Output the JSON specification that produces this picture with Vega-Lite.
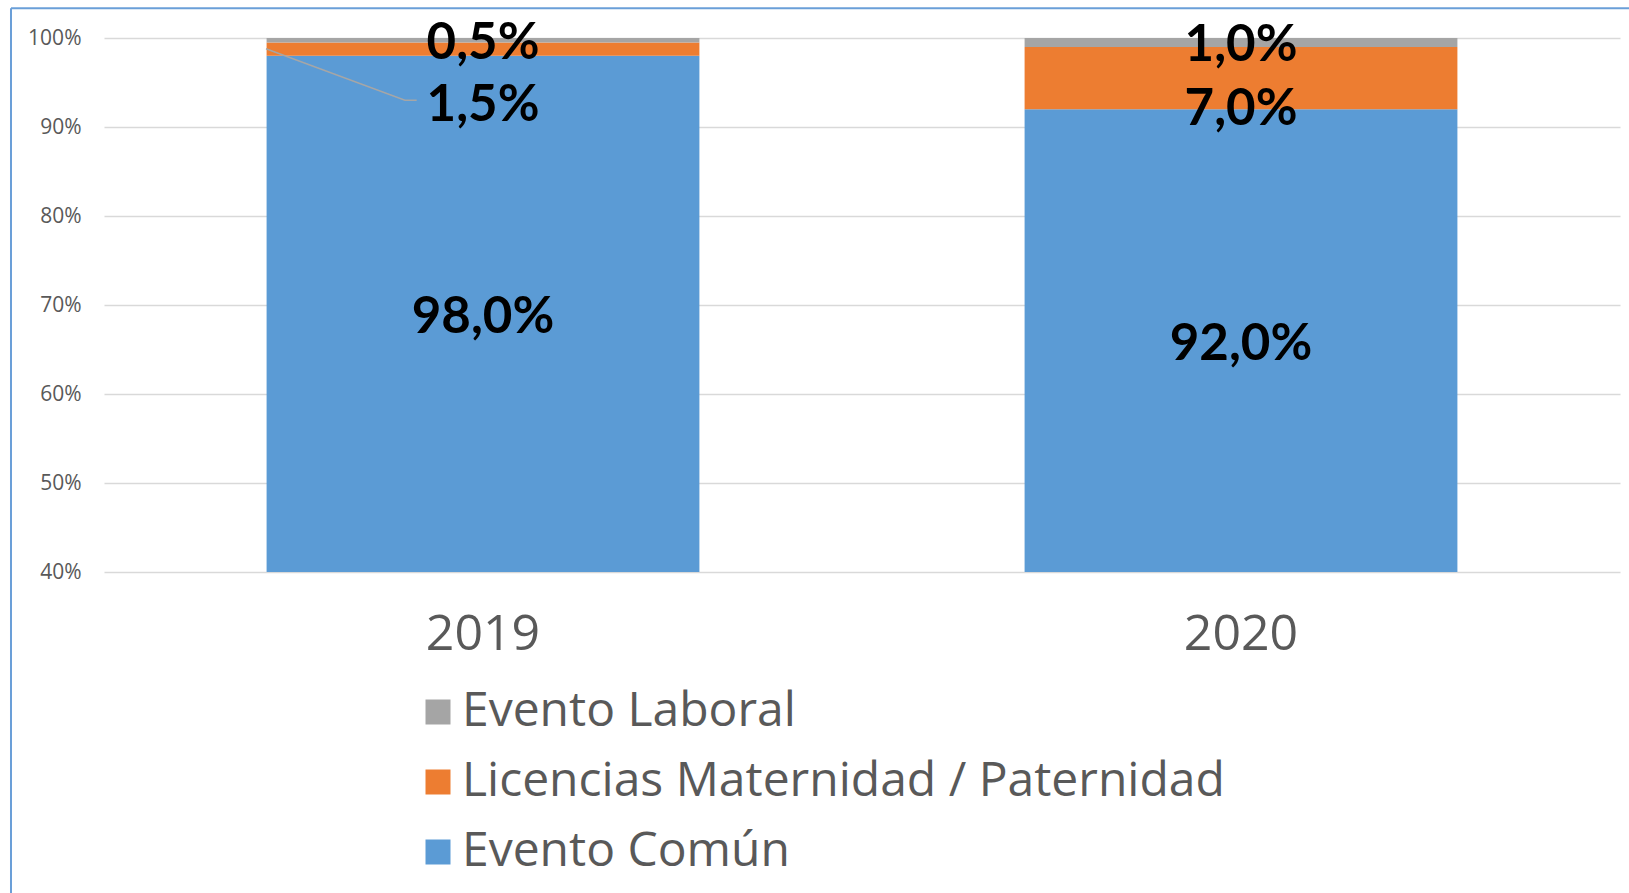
{
  "$schema": "https://vega.github.io/schema/vega-lite/v6.json",
  "width": 1516,
  "height": 534,
  "autosize": {"type": "none"},
  "padding": {"left": 104, "top": 38, "right": 9, "bottom": 321},
  "background": "white",
  "config": {
    "locale": {"number": {"decimal": ",", "thousands": ".", "grouping": [3], "currency": ["", " €"]}},
    "view": {"stroke": null},
    "font": "Open Sans"
  },
  "datasets": {
    "ausentismo": [
      {"anio": "2019", "tipo": "Evento Común", "valor": 0.98},
      {"anio": "2019", "tipo": "Licencias Maternidad / Paternidad", "valor": 0.015},
      {"anio": "2019", "tipo": "Evento Laboral", "valor": 0.005},
      {"anio": "2020", "tipo": "Evento Común", "valor": 0.92},
      {"anio": "2020", "tipo": "Licencias Maternidad / Paternidad", "valor": 0.07},
      {"anio": "2020", "tipo": "Evento Laboral", "valor": 0.01}
    ],
    "guia": [
      {"px": 0.2137, "py": 0.988, "k": 0},
      {"px": 0.397, "py": 0.93, "k": 1},
      {"px": 0.4125, "py": 0.93, "k": 2}
    ]
  },
  "layer": [
    {
      "data": {"name": "ausentismo"},
      "transform": [
        {"calculate": "indexof(['Evento Común','Licencias Maternidad / Paternidad','Evento Laboral'], datum.tipo)", "as": "orden"}
      ],
      "layer": [
        {
          "mark": {"type": "bar", "clip": true},
          "encoding": {
            "x": {
              "field": "anio", "type": "nominal",
              "scale": {"paddingInner": 0.429, "paddingOuter": 0.2145},
              "axis": {"title": null, "labelAngle": 0, "labelFontSize": 50, "labelColor": "#595959", "labelPadding": 37, "ticks": false, "domain": false, "labelFont": "Open Sans", "grid": false}
            },
            "y": {
              "field": "valor", "type": "quantitative", "stack": "zero",
              "scale": {"domain": [0.4, 1]},
              "axis": {"title": null, "format": ".0%", "values": [0.4, 0.5, 0.6, 0.7, 0.8, 0.9, 1.0], "labelFontSize": 21, "labelColor": "#595959", "labelFont": "Open Sans", "ticks": false, "domain": false, "gridColor": "#d9d9d9", "gridWidth": 1.5, "labelPadding": 23}
            },
            "color": {
              "field": "tipo", "type": "nominal",
              "scale": {"domain": ["Evento Laboral", "Licencias Maternidad / Paternidad", "Evento Común"], "range": ["#a5a5a5", "#ed7d31", "#5b9bd5"]},
              "legend": {"title": null, "orient": "none", "legendX": 310, "legendY": 650, "direction": "vertical", "labelFontSize": 48, "labelColor": "#595959", "labelFont": "Open Sans", "symbolType": "square", "symbolSize": 625, "symbolStrokeWidth": 0, "symbolOpacity": 1, "labelOffset": 0, "rowPadding": 22, "labelLimit": 1200}
            },
            "order": {"field": "orden"}
          }
        },
        {
          "transform": [
            {"stack": "valor", "groupby": ["anio"], "sort": [{"field": "orden"}], "as": ["y0", "y1"]},
            {"calculate": "datum.tipo === 'Licencias Maternidad / Paternidad' ? (datum.anio === '2019' ? 0.928 : 0.924) : (max(datum.y0, 0.4) + datum.y1) / 2", "as": "pos"}
          ],
          "mark": {"type": "text", "font": "Lato", "fontWeight": "bold", "fontSize": 51, "color": "#000000", "baseline": "middle", "dy": 4},
          "encoding": {
            "x": {"field": "anio", "type": "nominal"},
            "y": {"field": "pos", "type": "quantitative", "scale": {"domain": [0.4, 1]}},
            "text": {"field": "valor", "type": "quantitative", "format": ".1%"}
          }
        }
      ]
    },
    {
      "data": {"name": "guia"},
      "mark": {"type": "line", "color": "#a6a6a6", "strokeWidth": 1.5},
      "encoding": {
        "x": {"field": "px", "type": "quantitative", "scale": {"domain": [0, 2], "zero": false, "nice": false}, "axis": null},
        "y": {"field": "py", "type": "quantitative", "scale": {"domain": [0.4, 1]}},
        "order": {"field": "k"}
      }
    },
    {
      "data": {"values": [{}]},
      "mark": {"type": "rule", "color": "#6a9fd8", "strokeWidth": 2},
      "encoding": {
        "x": {"datum": -0.1227, "type": "quantitative", "scale": {"domain": [0, 2], "zero": false, "nice": false}, "axis": null},
        "x2": {"datum": 2.02},
        "y": {"datum": 1.0334, "type": "quantitative", "scale": {"domain": [0.4, 1]}}
      }
    },
    {
      "data": {"values": [{}]},
      "mark": {"type": "rule", "color": "#6a9fd8", "strokeWidth": 2},
      "encoding": {
        "x": {"datum": -0.1227, "type": "quantitative", "scale": {"domain": [0, 2], "zero": false, "nice": false}, "axis": null},
        "y": {"datum": 1.0334, "type": "quantitative", "scale": {"domain": [0.4, 1]}},
        "y2": {"datum": 0.03}
      }
    }
  ],
  "resolve": {"scale": {"x": "independent"}}
}
